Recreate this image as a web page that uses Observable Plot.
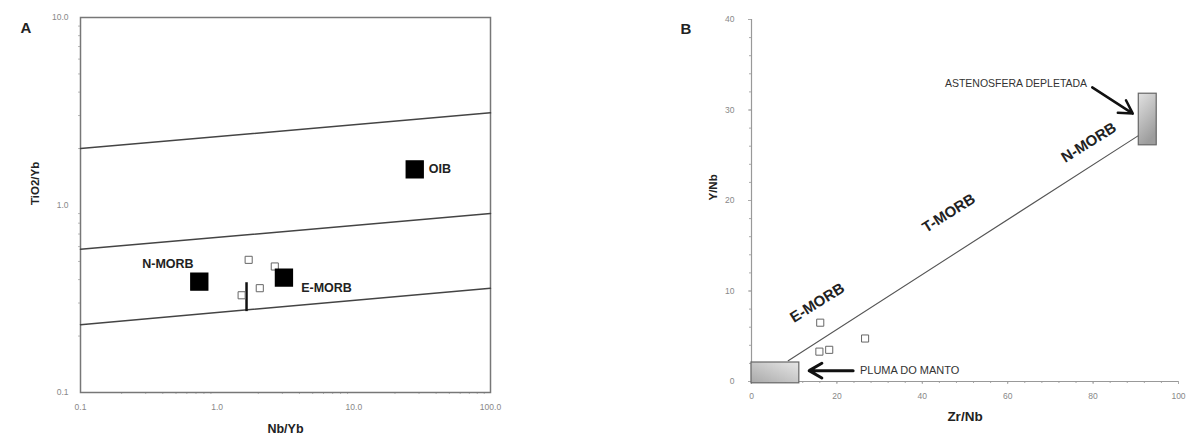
<!DOCTYPE html>
<html><head><meta charset="utf-8">
<script src="https://cdn.jsdelivr.net/npm/d3@7"></script>
<script src="https://cdn.jsdelivr.net/npm/@observablehq/plot@0.6"></script>
<style>
body{margin:0;background:#fff;}
#wrap{position:relative;width:1192px;height:439px;overflow:hidden;background:#fff;}
#a{position:absolute;left:0;top:0;}
#b{position:absolute;left:600px;top:0;}
</style></head><body><div id="wrap"><div id="a"></div><div id="b"></div></div>
<script>
// ---------- Panel A: TiO2/Yb vs Nb/Yb (log-log) ----------
const nbYbEnds = [0.1, 100];
const upperLine = [2.0, 3.1];
const middleLine = [0.58, 0.9];
const lowerLine = [0.23, 0.36];
const refNames = ["N-MORB", "E-MORB", "OIB"];
const refNbYb = [0.74, 3.08, 27.9];
const refTiYb = [0.39, 0.41, 1.55];
const refLabelNbYb = [0.283, 4.12, 35.3];
const refLabelTiYb = [0.485, 0.362, 1.55];
const sampleNbYb = [1.70, 2.64, 2.05, 1.51];
const sampleTiYb = [0.51, 0.47, 0.36, 0.33];
const barNbYb = [1.64];
const barTiYb = [0.27, 0.385];
const xTicksA = [0.1, 1, 10, 100];
const yTicksA = [0.1, 1, 10];

// ---------- Panel B: Y/Nb vs Zr/Nb ----------
const sampleZrNb = [16.1, 15.9, 18.2, 26.6];
const sampleYNb = [6.5, 3.3, 3.5, 4.75];
const trendZrNb = [8.6, 90.7];
const trendYNb = [2.3, 27.2];
const plumeZrNb = [0, 11.2];
const plumeYNb = [-0.2, 2.1];
const asthenoZrNb = [90.7, 94.9];
const asthenoYNb = [26.1, 31.8];
const fieldNames = ["E-MORB", "T-MORB", "N-MORB"];
const fieldZrNb = [15.4, 46.2, 79.0];
const fieldYNb = [8.7, 18.6, 26.4];
const plumeLabel = "PLUMA DO MANTO";
const plumeLabelPos = [25.4, 1.2];
const plumeArrow = [23.8, 1.2, 13.5, 1.2];
const asthenoLabel = "ASTENOSFERA DEPLETADA";
const asthenoLabelPos = [78.6, 32.9];
const asthenoArrow = [79.8, 32.5, 89.3, 29.6];
const xTicksB = [0, 20, 40, 60, 80, 100];
const yTicksB = [0, 10, 20, 30, 40];

const FONT = "Liberation Sans, Arial, sans-serif";

// derived tables
const minorA = [];
for (const d of [0.1, 1, 10]) for (let k = 2; k <= 9; k++) minorA.push(+(d * k).toFixed(3));
const minorAy = minorA.filter(v => v < 10);
const boundaryLines = [
  ...nbYbEnds.map((x, i) => ({s: "upper", x, y: upperLine[i]})),
  ...nbYbEnds.map((x, i) => ({s: "middle", x, y: middleLine[i]})),
  ...nbYbEnds.map((x, i) => ({s: "lower", x, y: lowerLine[i]}))
];
const refs = refNames.map((n, i) => ({n, x: refNbYb[i], y: refTiYb[i], lx: refLabelNbYb[i], ly: refLabelTiYb[i]}));
const samplesA = sampleNbYb.map((x, i) => ({x, y: sampleTiYb[i]}));

const plotA = Plot.plot({
  width: 600, height: 439,
  marginLeft: 80, marginRight: 110, marginTop: 17, marginBottom: 47,
  style: {fontFamily: FONT, fontSize: "8.5px", background: "white", overflow: "visible"},
  x: {type: "log", domain: [0.1, 100]},
  y: {type: "log", domain: [0.1, 10]},
  marks: [
    Plot.axisX(minorA, {tickSize: 2, tickFormat: () => "", stroke: "#bbb", label: null}),
    Plot.axisX(xTicksA, {tickSize: 0, tickPadding: 11, tickFormat: d3.format(".1f"), fill: "#888", label: null}),
    Plot.axisY(minorAy, {tickSize: 2, tickFormat: () => "", stroke: "#bbb", label: null}),
    Plot.axisY(yTicksA, {tickSize: 0, tickPadding: 12, tickFormat: d3.format(".1f"), fill: "#888", label: null}),
    Plot.frame({stroke: "#777", strokeWidth: 1.5}),
    Plot.line(boundaryLines, {x: "x", y: "y", z: "s", stroke: "#444", strokeWidth: 1.5}),
    Plot.ruleX(barNbYb, {y1: barTiYb[0], y2: barTiYb[1], stroke: "#111", strokeWidth: 2.5}),
    Plot.dot(samplesA, {x: "x", y: "y", symbol: "square", r: 4, stroke: "#666", strokeWidth: 1, fill: "white"}),
    Plot.dot(refs, {x: "x", y: "y", symbol: "square", r: 9.5, fill: "#000", stroke: "#000"}),
    Plot.text(refs, {x: "lx", y: "ly", text: "n", textAnchor: "start", fontSize: 12.5, fontWeight: "bold", fill: "#222"}),
    Plot.text(["Nb/Yb"], {text: d => d, frameAnchor: "bottom", dy: 40, fontSize: 12.5, fontWeight: "bold", fill: "#222"}),
    Plot.text(["TiO2/Yb"], {text: d => d, frameAnchor: "left", dx: -45, rotate: -90, fontSize: 11.5, fontWeight: "bold", fill: "#222"}),
    Plot.text(["A"], {text: d => d, frameAnchor: "top-left", dx: -60, dy: 5, fontSize: 15, fontWeight: "bold", fill: "#222"})
  ]
});
document.getElementById("a").append(plotA);

// Panel B
const minorBx = d3.range(0, 101, 4);
const minorBy = d3.range(0, 41, 2);
const samplesB = sampleZrNb.map((x, i) => ({x, y: sampleYNb[i]}));
const trend = trendZrNb.map((x, i) => ({x, y: trendYNb[i]}));
const fields = fieldNames.map((n, i) => ({n, x: fieldZrNb[i], y: fieldYNb[i]}));

const defs = () => {
  const d = d3.create("svg:defs");
  const g1 = d.append("linearGradient").attr("id", "gradPlume").attr("x1", "0").attr("y1", "1").attr("x2", "1").attr("y2", "0");
  g1.append("stop").attr("offset", "0").attr("stop-color", "#a9a9a9");
  g1.append("stop").attr("offset", "1").attr("stop-color", "#e6e6e6");
  const g2 = d.append("linearGradient").attr("id", "gradAstheno").attr("x1", "0").attr("y1", "0").attr("x2", "0.4").attr("y2", "1");
  g2.append("stop").attr("offset", "0").attr("stop-color", "#e2e2e2");
  g2.append("stop").attr("offset", "1").attr("stop-color", "#9d9d9d");
  return d.node();
};

const plotB = Plot.plot({
  width: 592, height: 439,
  marginLeft: 151, marginRight: 14, marginTop: 19, marginBottom: 58,
  style: {fontFamily: FONT, fontSize: "8.5px", background: "white", overflow: "visible"},
  x: {domain: [0, 100]},
  y: {domain: [0, 40]},
  marks: [
    defs,
    Plot.axisX(minorBx, {tickSize: 2, tickFormat: () => "", stroke: "#aaa", label: null}),
    Plot.axisX(xTicksB, {tickSize: 3, tickPadding: 8, stroke: "#aaa", fill: "#888", label: null}),
    Plot.axisY(minorBy, {tickSize: 2, tickFormat: () => "", stroke: "#aaa", label: null}),
    Plot.axisY(yTicksB, {tickSize: 3, tickPadding: 14, stroke: "#aaa", fill: "#888", label: null}),
    Plot.ruleX([0], {stroke: "#999", strokeWidth: 1.2}),
    Plot.ruleY([0], {stroke: "#999", strokeWidth: 1.2}),
    Plot.line(trend, {x: "x", y: "y", stroke: "#555", strokeWidth: 1.1}),
    Plot.rect([0], {x1: plumeZrNb[0], x2: plumeZrNb[1], y1: plumeYNb[0], y2: plumeYNb[1], fill: "url(#gradPlume)", stroke: "#666", strokeWidth: 1.2}),
    Plot.rect([0], {x1: asthenoZrNb[0], x2: asthenoZrNb[1], y1: asthenoYNb[0], y2: asthenoYNb[1], fill: "url(#gradAstheno)", stroke: "#666", strokeWidth: 1.2}),
    Plot.dot(samplesB, {x: "x", y: "y", symbol: "square", r: 4, stroke: "#666", strokeWidth: 1, fill: "white"}),
    Plot.text(fields, {x: "x", y: "y", text: "n", rotate: -32, fontSize: 15, fontWeight: "bold", fill: "#222"}),
    Plot.arrow([0], {x1: plumeArrow[0], y1: plumeArrow[1], x2: plumeArrow[2], y2: plumeArrow[3], stroke: "#111", strokeWidth: 3, headLength: 9}),
    Plot.arrow([0], {x1: asthenoArrow[0], y1: asthenoArrow[1], x2: asthenoArrow[2], y2: asthenoArrow[3], stroke: "#111", strokeWidth: 2.5, headLength: 9}),
    Plot.text([plumeLabel], {text: d => d, x: plumeLabelPos[0], y: plumeLabelPos[1], textAnchor: "start", fontSize: 11, fill: "#333"}),
    Plot.text([asthenoLabel], {text: d => d, x: asthenoLabelPos[0], y: asthenoLabelPos[1], textAnchor: "end", fontSize: 10.5, fill: "#333"}),
    Plot.text(["Zr/Nb"], {text: d => d, frameAnchor: "bottom", dy: 39, fontSize: 13.5, fontWeight: "bold", fill: "#222"}),
    Plot.text(["Y/Nb"], {text: d => d, frameAnchor: "left", dx: -38, rotate: -90, fontSize: 11.5, fontWeight: "bold", fill: "#222"}),
    Plot.text(["B"], {text: d => d, frameAnchor: "top-left", dx: -71, dy: 4, fontSize: 15, fontWeight: "bold", fill: "#222"})
  ]
});
document.getElementById("b").append(plotB);
</script></body></html>
